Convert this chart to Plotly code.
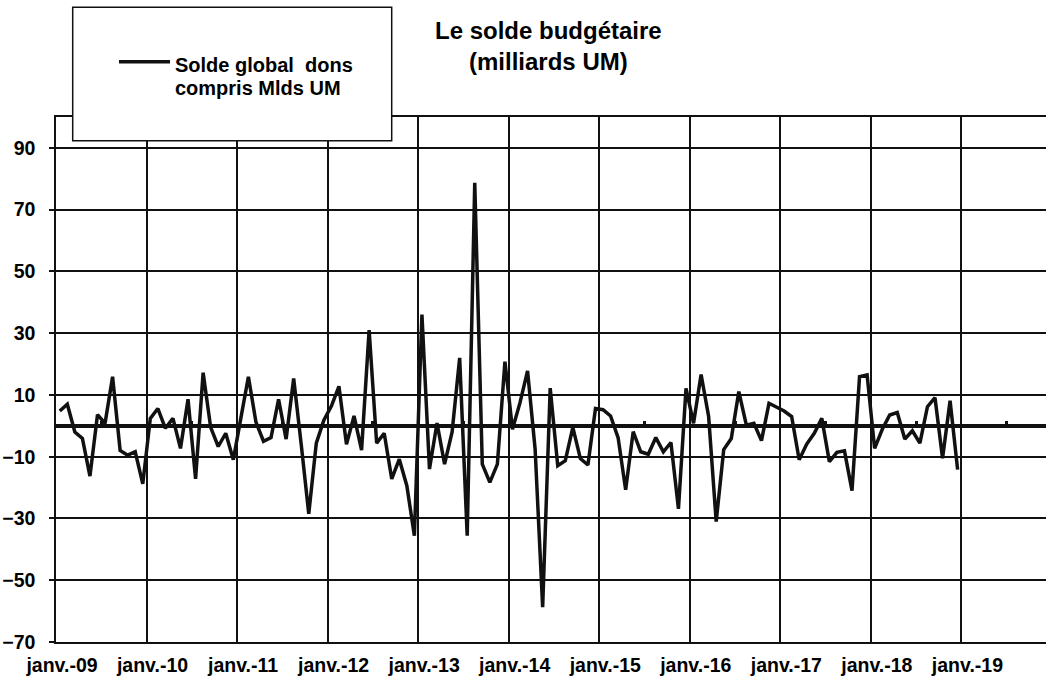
import plotly.graph_objects as go

# Monthly overall budget balance, grants included (billions UM), Jan 2009 - Dec 2018
years = ["09", "10", "11", "12", "13", "14", "15", "16", "17", "18", "19"]
tick_labels = [f"janv.-{y}" for y in years]

solde_2009 = [4.8, 7.0, -2.0, -4.1, -16.3, 3.6, 0.8, 15.9, -8.0, -9.5, -8.4, -18.8]
solde_2010 = [2.4, 5.6, -0.8, 2.4, -7.3, 8.6, -17.2, 17.2, -0.5, -6.7, -2.4, -11.0]
solde_2011 = [2.5, 15.9, 1.2, -5.0, -3.8, 8.6, -4.3, 15.3, -6.0, -28.5, -5.6, 1.8]
solde_2012 = [6.4, 12.8, -6.0, 3.2, -7.9, 31.0, -5.6, -2.4, -17.2, -10.8, -19.4, -35.6]
solde_2013 = [36.0, -14.0, 0.9, -12.4, -2.0, 22.0, -35.6, 78.7, -12.4, -18.3, -12.4, 20.8]
solde_2014 = [-1.1, 7.5, 17.8, -7.5, -58.7, 12.2, -12.9, -11.3, -0.5, -10.6, -12.7, 5.6]
solde_2015 = [5.2, 3.2, -3.8, -20.7, -1.9, -8.4, -9.2, -3.8, -8.4, -5.4, -26.9, 12.1]
solde_2016 = [0.8, 16.6, 3.0, -31.0, -7.7, -4.1, 11.1, 0.2, 0.8, -4.8, 7.3, 6.1]
solde_2017 = [4.8, 3.0, -11.0, -5.9, -2.4, 2.4, -11.6, -8.6, -8.1, -21.0, 15.9, 16.5]
solde_2018 = [-7.3, -1.2, 3.5, 4.3, -4.3, -1.6, -5.6, 6.2, 9.1, -10.5, 8.1, -14.2]

solde = (solde_2009 + solde_2010 + solde_2011 + solde_2012 + solde_2013
         + solde_2014 + solde_2015 + solde_2016 + solde_2017 + solde_2018)

y_ticks = [-70, -50, -30, -10, 10, 30, 50, 70, 90]

# Month slots: month k sits in the middle of slot [k, k+1]; years start at multiples of 12
x_month = [k + 0.5 for k in range(len(solde))]
x_years = [12 * k for k in range(len(years))]
x_mid_years = [12 * k + 6 for k in range(len(years))]

W, H = 1046, 684
L, R, T, B = 56, 0, 117, 42
PW, PH = W - L - R, H - T - B


def px_x(px):
    return (px - L) / PW


def px_y(py):
    return (H - B - py) / PH


FONT = "Liberation Sans, Arial, sans-serif"
INK = "#111111"

fig = go.Figure()
fig.add_trace(go.Scatter(
    x=x_month, y=solde, mode="lines",
    name="Solde global  dons compris Mlds UM",
    line=dict(color=INK, width=3.5),
    showlegend=False,
))
# Horizontal axis crossing at zero (drawn on an overlaid x axis)
fig.add_trace(go.Scatter(
    x=[None], y=[None], xaxis="x2", mode="lines",
    showlegend=False, hoverinfo="skip",
))

fig.update_layout(
    width=W, height=H,
    margin=dict(l=L, r=R, t=T, b=B, autoexpand=False),
    paper_bgcolor="white", plot_bgcolor="white",
    font=dict(family=FONT, color="black"),
    xaxis=dict(
        automargin=False,
        range=[0, PW / 7.545],
        tickvals=x_years, ticktext=tick_labels,
        tickfont=dict(size=19.5, weight="bold"),
        ticks="", ticklabelshift=6, ticklabelstandoff=5,
        showgrid=True, gridcolor=INK, gridwidth=1.5,
        showline=True, linecolor=INK, linewidth=2, mirror=True,
        zeroline=False,
    ),
    xaxis2=dict(
        automargin=False,
        overlaying="x", matches="x", anchor="free", position=70 / 170,
        side="bottom",
        showline=True, linecolor=INK, linewidth=3,
        ticks="inside", ticklen=4, tickwidth=2.5, tickcolor=INK,
        tickvals=x_mid_years, showticklabels=False,
        showgrid=False, zeroline=False,
    ),
    yaxis=dict(
        automargin=False,
        range=[-70, 100],
        tickvals=y_ticks,
        tickfont=dict(size=19.5, weight="bold"),
        ticks="outside", ticklen=5, tickwidth=1.5, tickcolor=INK,
        ticklabelstandoff=10,
        showgrid=True, gridcolor=INK, gridwidth=1.5,
        showline=True, linecolor=INK, linewidth=1.5,
        zeroline=True, zerolinecolor=INK, zerolinewidth=3,
    ),
)

# Boxed legend in the upper-left corner
fig.add_shape(type="rect", xref="paper", yref="paper",
              x0=px_x(72.7), x1=px_x(391.7), y0=px_y(140.7), y1=px_y(7.3),
              fillcolor="white", line=dict(color=INK, width=1.5), layer="above")
fig.add_shape(type="line", xref="paper", yref="paper",
              x0=px_x(119), x1=px_x(170), y0=px_y(61.7), y1=px_y(61.7),
              line=dict(color=INK, width=3.5), layer="above")
fig.add_annotation(text="Solde global\u00a0 dons", xref="paper", yref="paper",
                   x=px_x(173), y=px_y(65), xanchor="left", yanchor="middle",
                   showarrow=False, font=dict(size=20, weight="bold", family=FONT))
fig.add_annotation(text="compris Mlds UM", xref="paper", yref="paper",
                   x=px_x(173), y=px_y(88), xanchor="left", yanchor="middle",
                   showarrow=False, font=dict(size=20, weight="bold", family=FONT))

# Title
fig.add_annotation(text="Le solde budgétaire<br>(milliards UM)", xref="paper", yref="paper",
                   x=px_x(548), y=px_y(15), xanchor="center", yanchor="top",
                   align="center", showarrow=False,
                   font=dict(size=24, weight="bold", family=FONT))

fig.write_html("out.html")
